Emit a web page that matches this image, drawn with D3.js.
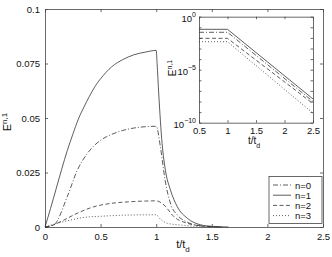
<!DOCTYPE html>
<html>
<head>
<meta charset="utf-8">
<script src="https://cdn.jsdelivr.net/npm/d3@7"></script>
<style>
body { margin: 0; background: #fff; }
text { font-family: "Liberation Sans", Arial, sans-serif; fill: #111; }
</style>
</head>
<body>
<div id="chart"></div>
<script>
var W = 332, H = 257;

// data (t/t_d, E^{n,1})
var seriesNames = ['n=0', 'n=1', 'n=2', 'n=3'];
var tN0 = [0, 0.08, 0.2, 0.29, 0.38, 0.5, 0.6, 0.7, 0.8, 0.9, 1.0, 1.04, 1.08, 1.13, 1.19, 1.28, 1.4, 1.5, 1.6];
var eN0 = [0, 0.001, 0.0139, 0.026, 0.0337, 0.0398, 0.0425, 0.0443, 0.0454, 0.046, 0.0462, 0.036, 0.0215, 0.0105, 0.0055, 0.0022, 0.0006, 0.0002, 0];
var tN1 = [0, 0.05, 0.1, 0.15, 0.2, 0.25, 0.3, 0.35, 0.4, 0.45, 0.5, 0.6, 0.7, 0.8, 0.9, 1.0, 1.008, 1.023, 1.053, 1.083, 1.128, 1.19, 1.28, 1.4, 1.5, 1.65];
var eN1 = [0, 0.0085, 0.0175, 0.0265, 0.035, 0.0425, 0.0495, 0.055, 0.06, 0.0645, 0.068, 0.0735, 0.0768, 0.079, 0.0802, 0.081, 0.075, 0.061, 0.0383, 0.026, 0.017, 0.0093, 0.004, 0.001, 0.0003, 0];
var tN2 = [0, 0.05, 0.17, 0.29, 0.44, 0.59, 0.77, 0.9, 1.0, 1.07, 1.16, 1.28, 1.4, 1.55];
var eN2 = [0, 0.0005, 0.0032, 0.0063, 0.0093, 0.0108, 0.0116, 0.0119, 0.012, 0.0101, 0.0047, 0.0017, 0.0005, 0];
var tN3 = [0, 0.11, 0.23, 0.35, 0.53, 0.77, 1.0, 1.04, 1.1, 1.22, 1.35, 1.5];
var eN3 = [0, 0.0017, 0.0032, 0.0044, 0.005, 0.0055, 0.0056, 0.0035, 0.0017, 0.0009, 0.0003, 0];

// inset: log10 of E at t/t_d = 0.5, 1, 2.5
var tInset = [0.5, 1, 2.5];
var logN0 = [-1.47, -1.47, -8.0];
var logN1 = [-1.19, -1.19, -7.76];
var logN2 = [-2.04, -2.04, -8.2];
var logN3 = [-2.36, -2.36, -9.1];

var xTicks = [0, 0.5, 1, 1.5, 2, 2.5];
var yTicks = [0, 0.025, 0.05, 0.075, 0.1];
var xTicksInset = [0.5, 1, 1.5, 2, 2.5];
var yTicksInset = [-10, -9, -8, -7, -6, -5, -4, -3, -2, -1, 0];
var yLabelsInset = [0, -5, -10];

var dashes = ['5,2,1,2', null, '4,2.5', '1,2'];
var lineColor = '#333';
var axisColor = '#444';

var svg = d3.select('#chart').append('svg')
  .attr('width', W).attr('height', H);
svg.append('rect').attr('width', W).attr('height', H).attr('fill', '#fff');

function zip(ts, vs) { return ts.map(function(t, i) { return [t, vs[i]]; }); }

/******** main axes ********/
var x = d3.scaleLinear().domain([0, 2.5]).range([45, 323]);
var y = d3.scaleLinear().domain([0, 0.1]).range([227, 9]);

var main = svg.append('g');

main.append('g').attr('transform', 'translate(0,227)')
  .call(d3.axisBottom(x).tickValues(xTicks).tickSizeInner(-3).tickSizeOuter(0).tickPadding(6).tickFormat(d3.format('')));
main.append('g').attr('transform', 'translate(0,9)')
  .call(d3.axisTop(x).tickValues(xTicks).tickSizeInner(-3).tickSizeOuter(0).tickFormat(''));
main.append('g').attr('transform', 'translate(45,0)')
  .call(d3.axisLeft(y).tickValues(yTicks).tickSizeInner(-3).tickSizeOuter(0).tickPadding(5).tickFormat(d3.format('')));
main.append('g').attr('transform', 'translate(323,0)')
  .call(d3.axisRight(y).tickValues(yTicks).tickSizeInner(-3).tickSizeOuter(0).tickFormat(''));

var mainData = [zip(tN0, eN0), zip(tN1, eN1), zip(tN2, eN2), zip(tN3, eN3)];
var line = d3.line().x(function(d) { return x(d[0]); }).y(function(d) { return y(d[1]); })
  .curve(d3.curveMonotoneX);

main.selectAll('.curve').data(mainData).enter().append('path')
  .attr('class', 'curve')
  .attr('d', line)
  .attr('fill', 'none')
  .attr('stroke', lineColor)
  .attr('stroke-width', 0.8)
  .attr('stroke-dasharray', function(d, i) { return dashes[i]; });

// axis labels
var yl = main.append('text').attr('transform', 'translate(11,122) rotate(-90)')
  .attr('text-anchor', 'middle').style('font-size', '11px');
yl.append('tspan').text('E');
yl.append('tspan').attr('dy', -4).style('font-size', '8px').text('n,1');

var xl = main.append('text').attr('x', 183).attr('y', 248)
  .attr('text-anchor', 'middle').style('font-size', '11px');
xl.append('tspan').text('t/t');
xl.append('tspan').attr('dy', 4).style('font-size', '8px').text('d');

/******** legend ********/
var leg = svg.append('g');
leg.append('rect').attr('x', 269).attr('y', 176.5).attr('width', 53).attr('height', 47)
  .attr('fill', '#fff').attr('stroke', axisColor).attr('stroke-width', 0.8);
seriesNames.forEach(function(name, i) {
  var ly = 185 + i * 10.2;
  leg.append('line').attr('x1', 273).attr('x2', 291).attr('y1', ly).attr('y2', ly)
    .attr('stroke', lineColor).attr('stroke-width', 0.8)
    .attr('stroke-dasharray', dashes[i]);
  leg.append('text').attr('x', 295).attr('y', ly + 3.5).style('font-size', '9.5px').text(name);
});

/******** inset ********/
var xi = d3.scaleLinear().domain([0.5, 2.5]).range([199, 313]);
var yi = d3.scaleLinear().domain([-10, 0]).range([122.7, 16.7]);

var inset = svg.append('g');
inset.append('rect').attr('x', 199).attr('y', 16.7).attr('width', 114).attr('height', 106)
  .attr('fill', '#fff');

inset.append('g').attr('transform', 'translate(0,122.7)')
  .call(d3.axisBottom(xi).tickValues(xTicksInset).tickSizeInner(-2.5).tickSizeOuter(0).tickPadding(5).tickFormat(d3.format('')));
inset.append('g').attr('transform', 'translate(0,16.7)')
  .call(d3.axisTop(xi).tickValues(xTicksInset).tickSizeInner(-2.5).tickSizeOuter(0).tickFormat(''));
inset.append('g').attr('transform', 'translate(199,0)')
  .call(d3.axisLeft(yi).tickValues(yTicksInset).tickSizeInner(-2.5).tickSizeOuter(0).tickFormat(''));
inset.append('g').attr('transform', 'translate(313,0)')
  .call(d3.axisRight(yi).tickValues(yTicksInset).tickSizeInner(-2.5).tickSizeOuter(0).tickFormat(''));

yLabelsInset.forEach(function(p) {
  var t = inset.append('text').attr('x', 196).attr('y', yi(p) + 5)
    .attr('text-anchor', 'end').style('font-size', '9.5px');
  t.append('tspan').text('10');
  t.append('tspan').attr('dy', -5).style('font-size', '7px').text(p < 0 ? '\u2212' + (-p) : p);
});

var insetData = [zip(tInset, logN0), zip(tInset, logN1), zip(tInset, logN2), zip(tInset, logN3)];
var lineI = d3.line().x(function(d) { return xi(d[0]); }).y(function(d) { return yi(d[1]); });
inset.selectAll('.icurve').data(insetData).enter().append('path')
  .attr('class', 'icurve')
  .attr('d', lineI)
  .attr('fill', 'none')
  .attr('stroke', lineColor)
  .attr('stroke-width', 0.8)
  .attr('stroke-dasharray', function(d, i) { return dashes[i]; });

var iyl = inset.append('text').attr('transform', 'translate(176,68) rotate(-90)')
  .attr('text-anchor', 'middle').style('font-size', '10px');
iyl.append('tspan').text('E');
iyl.append('tspan').attr('dy', -4).style('font-size', '7px').text('n,1');

var ixl = inset.append('text').attr('x', 254).attr('y', 144)
  .attr('text-anchor', 'middle').style('font-size', '10px');
ixl.append('tspan').text('t/t');
ixl.append('tspan').attr('dy', 3.5).style('font-size', '7px').text('d');

// styling of axes
svg.selectAll('.domain').attr('stroke', axisColor).attr('stroke-width', 0.8);
svg.selectAll('.tick line').attr('stroke', axisColor).attr('stroke-width', 0.8);
svg.selectAll('.tick text').style('font-family', '"Liberation Sans", Arial, sans-serif')
  .style('font-size', '9.5px').attr('fill', '#111');
</script>
</body>
</html>
